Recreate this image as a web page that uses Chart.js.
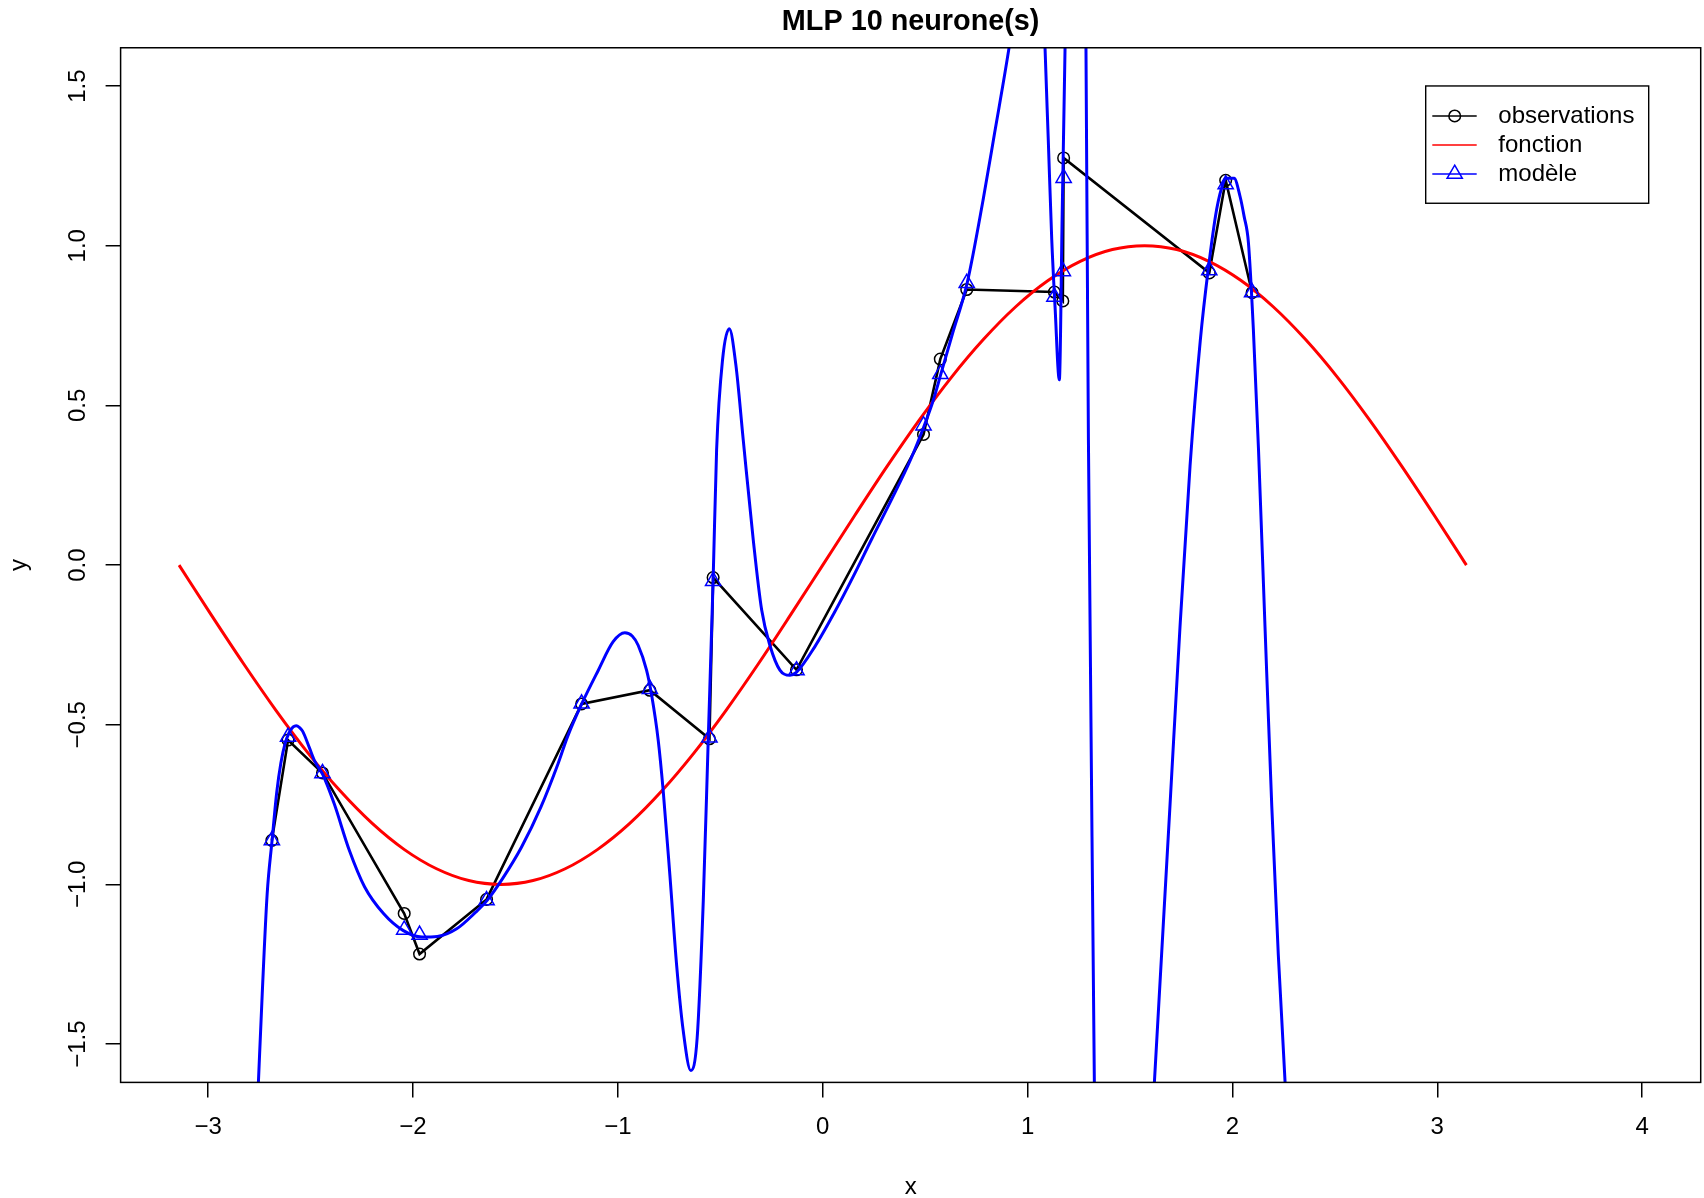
<!DOCTYPE html>
<html>
<head>
<meta charset="utf-8">
<title>MLP 10 neurone(s)</title>
<script src="https://cdn.jsdelivr.net/npm/chart.js@4.4.1/dist/chart.umd.min.js"></script>
<style>
  html, body { margin: 0; padding: 0; background: #ffffff; }
  canvas { display: block; }
</style>
</head>
<body>
<canvas id="chart" width="1704" height="1198"></canvas>
<script>
// ---- data ----------------------------------------------------------------
const titleText = 'MLP 10 neurone(s)';
const seriesLabels = ['observations', 'fonction', 'modèle'];

// noisy observations (sorted by x)
const obsX = [-2.689, -2.610, -2.442, -2.043, -1.968, -1.641, -1.177, -0.844, -0.553, -0.535,
              -0.128, 0.492, 0.574, 0.703, 1.131, 1.172, 1.176, 1.887, 1.967, 2.096];
const obsY = [-0.862, -0.548, -0.651, -1.091, -1.218, -1.047, -0.435, -0.392, -0.544, -0.039,
              -0.328, 0.409, 0.645, 0.863, 0.855, 0.827, 1.275, 0.915, 1.205, 0.853];

// model output at the observation abscissae
const predY = [-0.862, -0.538, -0.652, -1.142, -1.158, -1.050, -0.434, -0.388, -0.540, -0.050,
               -0.330, 0.437, 0.598, 0.883, 0.840, 0.920, 1.212, 0.923, 1.192, 0.854];

// target function
const fnX = [-3.142, -2.985, -2.827, -2.670, -2.513, -2.356, -2.199, -2.042, -1.885, -1.728,
             -1.571, -1.414, -1.257, -1.100, -0.942, -0.785, -0.628, -0.471, -0.314, -0.157,
             0.000, 0.157, 0.314, 0.471, 0.628, 0.785, 0.942, 1.100, 1.257, 1.414,
             1.571, 1.728, 1.885, 2.042, 2.199, 2.356, 2.513, 2.670, 2.827, 2.985, 3.142];
const fnY = [0.000, -0.156, -0.309, -0.454, -0.588, -0.707, -0.809, -0.891, -0.951, -0.988,
             -1.000, -0.988, -0.951, -0.891, -0.809, -0.707, -0.588, -0.454, -0.309, -0.156,
             0.000, 0.156, 0.309, 0.454, 0.588, 0.707, 0.809, 0.891, 0.951, 0.988,
             1.000, 0.988, 0.951, 0.891, 0.809, 0.707, 0.588, 0.454, 0.309, 0.156, 0.000];

// network response over the whole interval
const modelX = [-3.142, -3.000, -2.900, -2.800, -2.755, -2.736, -2.712, -2.688, -2.665, -2.645,
                -2.625, -2.605, -2.585, -2.570, -2.555, -2.539, -2.507, -2.479, -2.441, -2.385,
                -2.311, -2.236, -2.143, -2.049, -1.956, -1.881, -1.787, -1.694, -1.638, -1.563,
                -1.470, -1.376, -1.292, -1.246, -1.176, -1.096, -1.023, -0.966, -0.930, -0.901,
                -0.860, -0.835, -0.803, -0.779, -0.746, -0.713, -0.681, -0.644, -0.613, -0.583,
                -0.559, -0.535, -0.518, -0.489, -0.456, -0.424, -0.388, -0.339, -0.298, -0.258,
                -0.209, -0.160, -0.129, -0.039, 0.055, 0.148, 0.241, 0.335, 0.428, 0.494,
                0.540, 0.578, 0.634, 0.705, 0.783, 0.839, 0.910, 0.950, 1.000, 1.040,
                1.070, 1.085, 1.101, 1.118, 1.134, 1.155, 1.169, 1.183, 1.210, 1.240,
                1.270, 1.285, 1.297, 1.326, 1.340, 1.400, 1.500, 1.580, 1.619, 1.695,
                1.744, 1.793, 1.843, 1.882, 1.923, 1.956, 1.969, 2.008, 2.037, 2.057,
                2.078, 2.102, 2.127, 2.159, 2.192, 2.224, 2.257, 2.300, 2.500, 2.800, 3.142];
const modelY = [-6.20, -4.60, -3.20, -2.30, -1.624, -1.342, -1.030, -0.862, -0.710, -0.620,
                -0.560, -0.525, -0.507, -0.503, -0.508, -0.520, -0.570, -0.615, -0.655, -0.747,
                -0.893, -1.008, -1.092, -1.144, -1.165, -1.163, -1.139, -1.087, -1.050, -0.982,
                -0.883, -0.758, -0.622, -0.538, -0.434, -0.330, -0.240, -0.212, -0.222, -0.251,
                -0.329, -0.408, -0.549, -0.705, -0.972, -1.254, -1.458, -1.583, -1.481, -1.050,
                -0.549, -0.047, 0.361, 0.643, 0.740, 0.627, 0.392, 0.078, -0.141, -0.251,
                -0.329, -0.345, -0.336, -0.256, -0.151, -0.037, 0.084, 0.204, 0.329, 0.434,
                0.517, 0.601, 0.726, 0.883, 1.144, 1.353, 1.622, 1.800, 2.050, 2.100,
                1.950, 1.623, 1.332, 1.019, 0.810, 0.580, 1.100, 1.623, 2.600, 3.400,
                2.800, 1.623, 0.392, -1.620, -2.700, -4.800, -4.900, -2.070, -1.620, -0.755,
                -0.194, 0.310, 0.703, 0.927, 1.114, 1.198, 1.211, 1.211, 1.155, 1.092,
                1.010, 0.740, 0.366, -0.194, -0.755, -1.222, -1.620, -2.300, -4.800, -7.200, -9.000];

const xTicks = [-3, -2, -1, 0, 1, 2, 3, 4];
const yTicks = [-1.5, -1.0, -0.5, 0.0, 0.5, 1.0, 1.5];
const xRange = [-3.4274, 4.2858];
const yRange = [-1.62, 1.62];

// ---- helpers ---------------------------------------------------------------
const toPoints = (xs, ys) => xs.map((x, i) => ({ x: x, y: ys[i] }));
const signed = (v, digits) => (v < 0 ? '\u2212' : '') + Math.abs(v).toFixed(digits);

const BLACK = '#000000';
const RED = '#ff0000';
const BLUE = '#0000ff';
const NONE = 'rgba(0,0,0,0)';

Chart.defaults.font.family = "'Liberation Sans', Arial, Helvetica, sans-serif";
Chart.defaults.font.size = 24;
Chart.defaults.color = BLACK;

// no extra room for edge labels: the plotting region keeps its fixed size
const noEdgePadding = (s) => {
  s.paddingLeft = 0;
  s.paddingRight = 0;
  s.paddingTop = 0;
  s.paddingBottom = 0;
};

// frame round the plotting region
const frame = {
  id: 'frame',
  afterDatasetsDraw(chart) {
    const { ctx, chartArea: a } = chart;
    ctx.save();
    ctx.strokeStyle = BLACK;
    ctx.lineWidth = 1.5;
    ctx.strokeRect(a.left, a.top, a.right - a.left, a.bottom - a.top);
    ctx.restore();
  }
};

// boxed legend in the upper-right corner of the plotting region
const boxedLegend = {
  id: 'boxedLegend',
  afterDraw(chart) {
    const { ctx, chartArea: a } = chart;
    const w = 223, h = 117.3;
    const left = a.right - 52 - w;
    const top = a.top + 38.2;
    const rows = [
      { text: seriesLabels[0], color: BLACK, marker: 'circle', r: 5.8 },
      { text: seriesLabels[1], color: RED, marker: null, r: 0 },
      { text: seriesLabels[2], color: BLUE, marker: 'triangle', r: 8.8 }
    ];
    ctx.save();
    ctx.fillStyle = '#ffffff';
    ctx.fillRect(left, top, w, h);
    ctx.strokeStyle = BLACK;
    ctx.lineWidth = 1.4;
    ctx.strokeRect(left, top, w, h);
    ctx.font = "24px 'Liberation Sans', Arial, sans-serif";
    ctx.textBaseline = 'middle';
    ctx.textAlign = 'left';
    rows.forEach((row, i) => {
      const y = top + 30 + i * 29;
      ctx.strokeStyle = row.color;
      ctx.lineWidth = 1.5;
      ctx.beginPath();
      ctx.moveTo(left + 6.6, y);
      ctx.lineTo(left + 51, y);
      ctx.stroke();
      if (row.marker) {
        ctx.fillStyle = NONE;
        ctx.strokeStyle = row.color;
        ctx.lineWidth = 1.5;
        Chart.helpers.drawPoint(ctx, { pointStyle: row.marker, radius: row.r, rotation: 0, borderWidth: 1.5 }, left + 29, y);
      }
      ctx.fillStyle = BLACK;
      ctx.fillText(row.text, left + 72.6, y);
    });
    ctx.restore();
  }
};

new Chart(document.getElementById('chart'), {
  type: 'line',
  data: {
    datasets: [
      {
        label: seriesLabels[2] + ' (observations)',
        data: toPoints(obsX, predY),
        showLine: false,
        pointStyle: 'triangle',
        pointRadius: 8.8,
        pointBorderWidth: 1.5,
        pointBorderColor: BLUE,
        pointBackgroundColor: NONE,
        borderColor: BLUE
      },
      {
        label: seriesLabels[2],
        data: toPoints(modelX, modelY),
        borderColor: BLUE,
        borderWidth: 3,
        pointRadius: 0,
        cubicInterpolationMode: 'monotone',
        clip: 0
      },
      {
        label: seriesLabels[1],
        data: toPoints(fnX, fnY),
        borderColor: RED,
        borderWidth: 3,
        pointRadius: 0,
        cubicInterpolationMode: 'monotone',
        clip: 0
      },
      {
        label: seriesLabels[0],
        data: toPoints(obsX, obsY),
        borderColor: BLACK,
        borderWidth: 2.6,
        tension: 0,
        pointStyle: 'circle',
        pointRadius: 5.8,
        pointBorderWidth: 1.5,
        pointBorderColor: BLACK,
        pointBackgroundColor: NONE
      }
    ]
  },
  options: {
    responsive: false,
    animation: false,
    events: [],
    devicePixelRatio: 1,
    layout: { autoPadding: false, padding: { top: 0, right: 3.3, bottom: 0, left: 0 } },
    scales: {
      x: {
        type: 'linear',
        min: xRange[0],
        max: xRange[1],
        afterBuildTicks: (s) => { s.ticks = xTicks.map(v => ({ value: v })); },
        afterFit: (s) => { s.height = 115.6; noEdgePadding(s); },
        border: { display: false },
        grid: { drawOnChartArea: false, drawTicks: true, tickLength: 15, color: BLACK, lineWidth: 1.5 },
        ticks: {
          padding: 16,
          autoSkip: false,
          maxRotation: 0,
          color: BLACK,
          font: { size: 24 },
          callback: (v) => signed(v, 0)
        },
        title: { display: true, text: 'x', color: BLACK, font: { size: 24 }, padding: { top: 0, bottom: -4 } }
      },
      y: {
        type: 'linear',
        min: yRange[0],
        max: yRange[1],
        afterBuildTicks: (s) => { s.ticks = yTicks.map(v => ({ value: v })); },
        afterFit: (s) => { s.width = 120.6; noEdgePadding(s); },
        border: { display: false },
        grid: { drawOnChartArea: false, drawTicks: true, tickLength: 15, color: BLACK, lineWidth: 1.5 },
        ticks: {
          padding: 3.4,
          minRotation: 90,
          maxRotation: 90,
          crossAlign: 'center',
          autoSkip: false,
          color: BLACK,
          font: { size: 24 },
          callback: (v) => signed(v, 1)
        },
        title: { display: true, text: 'y', color: BLACK, font: { size: 24 }, padding: { top: 4.6, bottom: 0 } }
      }
    },
    plugins: {
      legend: { display: false },
      tooltip: { enabled: false },
      title: {
        display: true,
        text: titleText,
        fullSize: false,
        color: BLACK,
        font: { size: 28.8, weight: 'bold' },
        padding: { top: 4.4, bottom: 8.8 }
      }
    }
  },
  plugins: [frame, boxedLegend]
});
</script>
</body>
</html>
